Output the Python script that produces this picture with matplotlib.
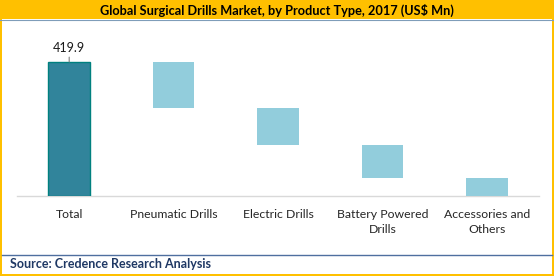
import matplotlib
matplotlib.use("Agg")
import matplotlib.pyplot as plt
from matplotlib.patches import Rectangle
from matplotlib.lines import Line2D

categories = ["Total", "Pneumatic Drills", "Electric Drills", "Battery Powered\nDrills", "Accessories and\nOthers"]
total = 419.9
segments = [144.1, 115.0, 103.4, 57.4]

W, H = 554, 276
fig = plt.figure(figsize=(W / 100, H / 100), dpi=100)
fig.patch.set_facecolor("white")


def fx(px):
    return px / W


def fy(py):
    # py measured from the top of the image
    return 1 - py / H


gold = "#FFC000"
# title bar and gold frame
fig.patches.append(Rectangle((0, fy(19)), 1, 19 / H, transform=fig.transFigure,
                             facecolor=gold, edgecolor="none", zorder=0))
fig.patches.append(Rectangle((0, 0), fx(2), 1, transform=fig.transFigure,
                             facecolor=gold, edgecolor="none"))
fig.patches.append(Rectangle((fx(552), 0), fx(2), 1, transform=fig.transFigure,
                             facecolor=gold, edgecolor="none"))
fig.patches.append(Rectangle((0, 0), 1, 2 / H, transform=fig.transFigure,
                             facecolor=gold, edgecolor="none"))
fig.lines.append(Line2D([0, 1], [fy(19.5), fy(19.5)], transform=fig.transFigure,
                        color="#7F9DB9", lw=0.8))
fig.lines.append(Line2D([fx(2), fx(552)], [fy(255), fy(255)], transform=fig.transFigure,
                        color="#4F6F9F", lw=1.0))

fig.text(0.5, fy(10), "Global Surgical Drills Market, by Product Type, 2017 (US$ Mn)",
         ha="center", va="center", fontsize=9.2, fontweight="bold",
         family="Lato", color="black")
fig.text(fx(10), fy(264.5), "Source: Credence Research Analysis", ha="left", va="center",
         fontsize=9, fontweight="bold", family="Lato", color="#1F3864")

ax = fig.add_axes([fx(17), fy(196), fx(522), 146 / H])
x = list(range(len(categories)))

ax.bar(0, total, width=0.4, color="#31849B", edgecolor="#00807F", linewidth=1.0, zorder=3)
bottom = total
for i, v in enumerate(segments, start=1):
    bottom -= v
    ax.bar(i, v, bottom=bottom, width=0.4, color="#92CDDC", edgecolor="none", zorder=3)

ax.annotate(f"{total:.1f}", xy=(0, total), xytext=(0, total + 24),
            ha="center", va="bottom", fontsize=9, family="Lato", color="#1A1A1A",
            arrowprops=dict(arrowstyle="-", color="#808080", lw=0.8, shrinkA=0, shrinkB=0))

ax.set_xlim(-0.5, 4.5)
ax.set_ylim(0, 457.5)
ax.set_yticks([])
ax.set_xticks(x)
ax.set_xticklabels(categories, fontsize=8.8, family="Lato", color="#262626", linespacing=1.5)
ax.tick_params(axis="x", length=0, pad=9)
for s in ["top", "left", "right"]:
    ax.spines[s].set_visible(False)
ax.spines["bottom"].set_color("#D9D9D9")
ax.spines["bottom"].set_linewidth(1.0)
ax.patch.set_alpha(0)

fig.savefig("out.png", dpi=100)
